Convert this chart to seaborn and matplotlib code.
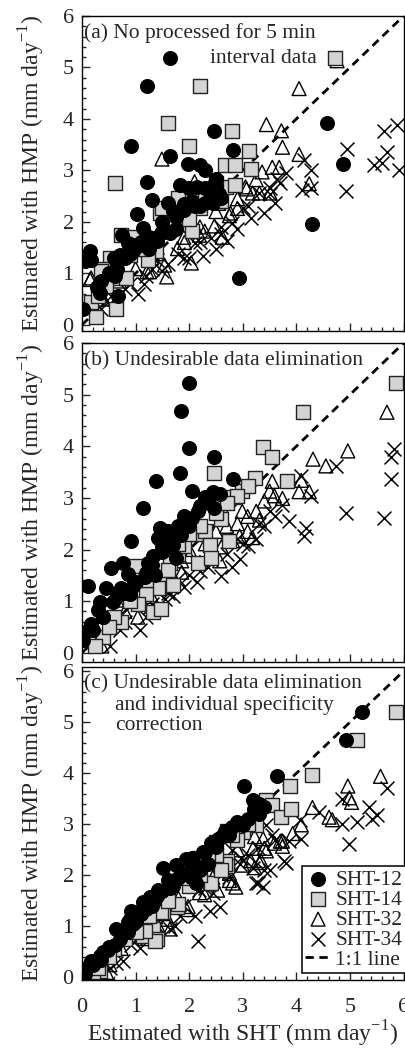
import pandas as pd
import seaborn as sns
import matplotlib.pyplot as plt
from matplotlib.ticker import MultipleLocator

# ---- panel (a): no processing for 5 min interval data ----
a12_x = [1.65, 1.21, 0.91, 2.47, 1.64, 2.81, 4.58, 4.87, 4.30, 2.92, 1.21, 1.31, 1.98, 2.20, 2.29, 1.82, 2.00, 2.15,
         2.30, 2.50, 2.50, 2.45, 2.30, 2.10, 1.90, 1.70, 1.02, 1.14, 1.34, 1.47, 1.65, 0.74, 0.85, 0.95, 1.05, 1.15,
         0.15, 0.05, 0.17, 0.60, 0.65, 0.62, 0.28, 0.34, 0.67, 0.02, 1.60, 1.40, 0.80, 0.90, 1.75, 2.60, 1.25, 0.55,
         1.50, 1.75, 1.90, 2.05, 2.20, 2.40, 2.55, 1.10, 1.25, 0.70, 0.95, 1.55, 0.50, 0.35]
a12_y = [5.19, 4.63, 3.48, 3.77, 3.28, 3.39, 3.92, 3.12, 1.96, 0.91, 2.78, 2.42, 3.12, 3.10, 3.01, 2.72, 2.65, 2.67,
         2.65, 2.84, 2.68, 2.36, 2.36, 2.31, 2.24, 2.21, 2.15, 1.88, 1.68, 1.78, 1.79, 1.74, 1.58, 1.43, 1.53, 1.58,
         1.44, 1.24, 1.26, 1.29, 1.09, 0.94, 0.74, 0.62, 0.55, 0.31, 2.36, 1.63, 1.29, 1.38, 1.87, 2.46, 1.48, 0.99,
         2.00, 2.10, 2.35, 2.40, 2.30, 2.45, 2.55, 1.60, 1.70, 1.35, 1.55, 1.85, 1.00, 0.85]
a14_x = [2.21, 1.60, 0.61, 2.00, 2.79, 3.12, 3.16, 2.66, 2.86, 2.68, 2.86, 4.72, 1.91, 2.38, 1.45, 1.93, 2.06, 0.72,
         0.95, 1.38, 1.23, 0.52, 0.54, 0.63, 0.82, 0.17, 0.26, 0.63, 2.30, 1.50, 1.80, 2.50, 1.10, 0.40, 0.35, 2.20,
         1.70, 1.35, 0.90, 2.60, 2.00, 0.30, 0.45]
a14_y = [4.63, 3.92, 2.76, 3.48, 3.77, 3.37, 3.03, 3.10, 3.10, 2.68, 2.72, 5.19, 2.44, 2.64, 2.17, 1.96, 1.82, 1.74,
         1.70, 1.44, 1.26, 1.29, 0.97, 0.91, 0.91, 0.44, 0.15, 0.30, 2.56, 2.26, 2.46, 2.75, 1.48, 1.09, 1.04, 2.26,
         1.95, 1.65, 1.35, 2.40, 2.05, 0.55, 0.75]
a32_x = [4.76, 4.05, 3.44, 3.72, 3.74, 4.05, 1.49, 3.36, 3.55, 3.68, 4.24, 3.07, 2.10, 1.69, 2.75, 2.47, 2.19, 2.04,
         1.58, 0.15, 1.21, 3.18, 3.25, 2.38, 3.05, 1.73, 2.77, 2.29, 2.62, 1.78, 1.91, 1.54, 1.26, 0.17, 3.31, 3.51,
         2.90, 1.00, 0.70, 0.40, 2.55, 1.40, 2.20, 2.50, 2.90, 1.90, 1.30]
a32_y = [5.13, 4.59, 3.89, 3.77, 3.45, 3.31, 3.22, 2.97, 3.06, 3.06, 2.74, 2.64, 2.78, 2.34, 2.12, 1.92, 1.74, 1.20,
         0.93, 0.88, 1.03, 2.56, 2.82, 2.68, 2.68, 2.30, 2.17, 1.82, 1.70, 1.48, 1.60, 1.16, 1.03, 0.91, 2.56, 2.56,
         2.26, 1.09, 0.85, 0.50, 2.36, 1.38, 1.90, 2.20, 2.45, 1.70, 1.30]
a34_x = [5.88, 5.63, 4.95, 5.69, 5.45, 5.60, 5.91, 4.14, 4.27, 4.11, 4.27, 4.93, 3.64, 3.50, 3.30, 3.60, 3.40, 3.15,
         2.90, 2.70, 2.50, 2.25, 2.00, 1.60, 1.50, 1.15, 1.05, 0.45, 0.35, 3.80, 3.00, 2.80, 2.40, 1.80, 1.30, 0.80,
         3.70, 2.60, 2.10, 1.20, 1.90, 2.20, 2.60, 3.10, 3.50, 1.40, 0.90, 0.60]
a34_y = [3.89, 3.77, 3.41, 3.35, 3.10, 3.14, 3.01, 3.20, 3.01, 2.62, 2.65, 2.59, 2.84, 2.65, 2.56, 2.36, 2.17, 2.07,
         1.87, 1.63, 1.48, 1.34, 1.29, 1.19, 1.04, 0.80, 0.60, 0.46, 0.31, 2.95, 2.26, 1.97, 1.68, 1.38, 1.09, 0.70,
         2.75, 1.77, 1.58, 0.94, 1.30, 1.60, 1.90, 2.30, 2.55, 1.25, 0.80, 0.50]

# ---- panel (b): undesirable data elimination ----
b12_x = [1.99, 1.84, 1.99, 2.47, 1.82, 1.38, 2.81, 2.06, 2.29, 2.44, 2.57, 1.13, 2.47, 2.16, 2.06, 1.45, 1.60, 1.41,
         1.84, 0.91, 1.69, 1.56, 1.32, 1.75, 0.76, 1.23, 0.54, 0.86, 1.17, 1.36, 0.11, 0.45, 0.72, 0.89, 0.58, 0.33,
         0.30, 0.17, 0.06, 0.02, 2.00, 1.50, 1.00, 0.65, 0.40, 1.90, 1.20, 1.30, 1.50, 1.65, 1.80, 1.95, 2.20, 2.35,
         0.80, 0.95, 0.40, 0.20]
b12_y = [5.23, 4.68, 3.97, 3.79, 3.48, 3.32, 3.37, 3.14, 3.02, 3.12, 3.08, 2.80, 2.80, 2.74, 2.61, 2.41, 2.35, 2.23,
         2.28, 2.17, 2.09, 2.03, 1.88, 1.84, 1.74, 1.74, 1.64, 1.52, 1.46, 1.50, 1.30, 1.26, 1.26, 1.13, 0.98, 0.98,
         0.83, 0.55, 0.41, 0.25, 2.45, 1.96, 1.38, 1.09, 0.70, 2.64, 1.55, 1.70, 2.05, 2.15, 2.45, 2.60, 2.85, 2.95,
         1.15, 1.30, 0.70, 0.45]
b14_x = [5.85, 4.13, 3.38, 3.55, 2.47, 3.22, 2.99, 2.81, 3.83, 2.58, 2.12, 2.29, 2.38, 2.75, 2.16, 2.40, 1.64, 1.51,
         1.00, 1.69, 1.41, 1.19, 1.04, 1.32, 1.47, 0.72, 0.39, 0.24, 3.10, 2.90, 2.60, 1.80, 0.60, 1.90, 2.20, 1.20,
         1.60, 1.80, 2.00, 2.50, 2.70, 0.90, 0.50]
b14_y = [5.23, 4.66, 3.99, 3.79, 3.48, 3.39, 3.14, 3.02, 3.32, 2.74, 2.31, 2.35, 2.09, 2.17, 1.74, 1.84, 1.74, 1.42,
         1.68, 1.32, 1.26, 1.13, 0.94, 0.79, 0.84, 0.59, 0.31, 0.13, 3.23, 3.03, 2.60, 1.92, 0.70, 2.06, 2.45, 1.40,
         1.60, 2.10, 2.30, 2.70, 2.90, 1.00, 0.50]
b32_x = [5.69, 4.96, 4.31, 4.55, 4.09, 4.05, 4.24, 3.55, 3.59, 3.74, 2.99, 3.25, 3.09, 3.31, 2.94, 3.09, 3.18, 2.57,
         2.81, 1.86, 1.86, 1.04, 0.65, 0.37, 2.30, 2.00, 1.70, 1.50, 1.30, 2.50, 3.40, 3.50, 0.80, 2.70, 1.60, 2.00,
         2.20, 2.60, 2.90, 1.20]
b32_y = [4.66, 3.91, 3.75, 3.62, 3.34, 3.12, 3.12, 3.32, 3.04, 2.99, 2.74, 2.74, 2.64, 2.57, 2.26, 2.35, 2.23, 1.78,
         2.17, 1.78, 1.56, 0.69, 1.02, 0.13, 2.11, 1.87, 1.48, 1.28, 1.09, 2.35, 2.94, 3.13, 0.80, 2.45, 1.55, 2.00,
         1.75, 2.05, 2.50, 1.15]
b34_x = [5.82, 5.76, 5.76, 4.93, 5.63, 4.74, 4.27, 4.09, 4.18, 4.15, 3.87, 3.74, 3.60, 3.40, 3.25, 3.10, 2.95, 2.80,
         2.60, 2.35, 2.15, 1.90, 1.70, 1.55, 1.27, 1.20, 1.08, 0.52, 3.00, 2.70, 2.20, 1.80, 1.40, 3.50, 0.80, 1.60,
         2.00, 2.40, 2.90, 3.30, 1.30, 0.70]
b34_y = [3.95, 3.79, 3.37, 2.70, 2.61, 3.62, 3.04, 3.43, 2.41, 2.26, 2.55, 2.86, 2.64, 2.45, 2.21, 2.06, 1.82, 1.67,
         1.48, 1.67, 1.38, 1.28, 1.09, 1.04, 0.89, 0.70, 0.44, 0.13, 2.11, 1.91, 1.58, 1.43, 1.19, 2.74, 0.60, 1.15,
         1.50, 1.80, 2.20, 2.50, 0.95, 0.45]

# ---- panel (c): elimination + individual specificity correction ----
c12_x = [5.22, 4.93, 3.64, 3.03, 3.19, 3.31, 3.40, 3.10, 3.00, 2.67, 2.54, 2.41, 1.94, 1.51, 2.13, 2.35, 2.20, 2.03,
         1.85, 1.73, 1.60, 1.42, 1.27, 1.14, 0.91, 1.04, 0.86, 0.86, 0.63, 0.61, 0.48, 0.33, 0.17, 0.07, 0.06, 2.80,
         2.90, 2.50, 2.30, 1.70, 1.30, 1.00, 0.75, 0.25, 0.40, 0.20, 0.35, 0.50, 0.70, 0.95, 1.10, 1.20, 1.35, 1.50,
         1.65, 1.80, 1.95, 2.10, 2.25, 2.45, 2.60, 2.75, 3.20, 3.30, 0.90, 1.40, 1.75, 2.05]
c12_y = [5.20, 4.65, 3.94, 3.75, 3.47, 3.39, 3.33, 3.10, 2.99, 2.86, 2.72, 2.63, 2.32, 2.15, 1.85, 2.23, 2.10, 1.96,
         2.00, 1.90, 1.90, 1.71, 1.58, 1.47, 1.30, 1.28, 1.09, 0.90, 0.95, 0.63, 0.53, 0.42, 0.32, 0.19, 0.06, 2.95,
         3.05, 2.55, 2.45, 1.80, 1.40, 1.10, 0.85, 0.30, 0.50, 0.25, 0.35, 0.60, 0.75, 1.05, 1.25, 1.35, 1.50, 1.70,
         1.75, 1.95, 2.05, 2.20, 2.45, 2.60, 2.75, 2.80, 3.30, 3.20, 1.15, 1.60, 2.20, 2.35]
c14_x = [5.85, 5.13, 4.30, 3.88, 3.44, 3.55, 3.72, 3.90, 3.28, 3.25, 2.70, 2.70, 2.70, 2.38, 2.19, 1.77, 1.51, 1.32,
         1.39, 1.14, 1.04, 0.93, 0.33, 0.20, 2.67, 2.41, 2.60, 1.79, 1.48, 1.36, 1.17, 0.89, 0.30, 3.00, 2.90, 2.50,
         2.00, 0.60, 0.50, 0.80, 1.00, 1.60, 1.90, 2.20, 2.35, 2.50, 2.80, 3.10, 1.25, 2.00]
c14_y = [5.20, 4.65, 3.96, 3.75, 3.47, 3.37, 3.14, 3.30, 3.28, 2.99, 2.86, 2.29, 2.19, 1.85, 2.34, 1.39, 1.28, 0.95,
         0.76, 0.82, 0.95, 1.01, 0.13, 0.10, 2.23, 1.85, 2.10, 1.43, 1.28, 0.72, 0.92, 1.01, 0.19, 2.85, 2.70, 2.40,
         1.80, 0.55, 0.40, 0.75, 0.90, 1.50, 1.95, 2.00, 2.35, 2.65, 2.80, 3.00, 1.20, 2.20]
c32_x = [5.57, 4.96, 5.03, 4.99, 4.30, 4.61, 4.67, 4.09, 3.93, 3.74, 3.74, 3.38, 3.19, 3.44, 3.31, 3.22, 2.75, 2.81,
         2.44, 2.19, 1.95, 1.64, 1.32, 0.46, 3.22, 3.40, 3.59, 3.70, 2.75, 2.87, 2.53, 2.29, 1.98, 1.60, 1.42, 1.17,
         0.73, 0.52, 3.15, 3.34, 0.90, 1.20, 1.50, 1.80, 2.10, 2.40, 2.60, 2.90, 3.00]
c32_y = [3.94, 3.75, 3.43, 3.52, 3.33, 3.14, 3.09, 2.99, 2.82, 2.67, 2.57, 2.72, 2.53, 2.48, 2.25, 2.15, 2.04, 1.85,
         1.96, 1.66, 1.33, 0.95, 0.90, 0.10, 2.76, 2.53, 2.63, 2.67, 1.90, 1.77, 1.71, 1.62, 1.39, 1.14, 1.01, 0.76,
         0.57, 0.25, 2.29, 2.29, 0.80, 1.05, 1.25, 1.55, 1.80, 2.10, 2.35, 2.50, 2.20]
c34_x = [5.69, 5.36, 5.51, 5.42, 5.13, 4.86, 4.99, 4.86, 4.43, 4.06, 4.09, 3.87, 3.81, 3.55, 3.44, 3.28, 3.50, 3.19,
         3.25, 2.94, 2.75, 2.44, 2.19, 2.16, 1.82, 1.64, 1.21, 1.08, 0.76, 0.52, 0.40, 3.28, 3.37, 3.77, 3.40, 2.96,
         2.58, 2.38, 2.10, 1.73, 0.91, 0.63, 1.00, 1.40, 1.90, 2.30, 2.60, 2.80, 3.10, 0.30, 3.60]
c34_y = [3.71, 3.33, 3.18, 3.10, 3.05, 3.01, 2.61, 3.49, 3.24, 3.09, 2.72, 2.67, 2.25, 2.80, 2.99, 2.53, 2.10, 2.15,
         1.85, 2.23, 1.96, 1.66, 1.71, 0.72, 1.20, 0.95, 0.82, 0.57, 0.32, 0.19, 0.05, 1.85, 1.77, 2.29, 2.10, 2.34,
         1.39, 1.30, 1.20, 1.01, 0.63, 0.29, 0.75, 1.00, 1.40, 1.75, 2.00, 2.50, 2.40, 0.15, 2.70]

sensors = ['SHT-12', 'SHT-14', 'SHT-32', 'SHT-34']
panel_titles = {
    'a': ['(a) No processed for 5 min', 'interval data'],
    'b': ['(b) Undesirable data elimination'],
    'c': ['(c) Undesirable data elimination', 'and individual specificity', 'correction'],
}


def main():
    sns.set_style('ticks')
    plt.rcParams['font.family'] = ['Liberation Serif', 'DejaVu Serif']
    plt.rcParams['mathtext.fontset'] = 'custom'
    plt.rcParams['mathtext.rm'] = 'Liberation Serif'

    raw = {
        'a': [(a12_x, a12_y), (a14_x, a14_y), (a32_x, a32_y), (a34_x, a34_y)],
        'b': [(b12_x, b12_y), (b14_x, b14_y), (b32_x, b32_y), (b34_x, b34_y)],
        'c': [(c12_x, c12_y), (c14_x, c14_y), (c32_x, c32_y), (c34_x, c34_y)],
    }
    frames = []
    for panel, pairs in raw.items():
        for sensor, (xs, ys) in zip(sensors, pairs):
            frames.append(pd.DataFrame({'panel': panel, 'sensor': sensor, 'x': xs, 'y': ys}))
    df = pd.concat(frames, ignore_index=True)

    styles = {
        'SHT-12': dict(marker='o', facecolor='black', edgecolor='black', linewidth=0.8),
        'SHT-14': dict(marker='s', facecolor='#d4d4d4', edgecolor='#222222', linewidth=1.0),
        'SHT-32': dict(marker='^', facecolor='none', edgecolor='black', linewidth=1.0),
        'SHT-34': dict(marker='x', color='black', linewidth=1.1),
    }

    fig = plt.figure(figsize=(4.06, 10.52), dpi=100)
    left, width = 0.202, 0.792
    # (bottom, height) in figure fraction and y-range for each panel
    boxes = {'a': (0.6854, 0.2994), 'b': (0.3707, 0.3032), 'c': (0.0684, 0.2975)}
    ylims = {'a': (-0.12, 6), 'b': (-0.18, 6), 'c': (-0.05, 6.08)}
    ylab = 'Estimated with HMP (mm day$^{-1}$)'
    txt = dict(fontsize=15.5, va='baseline')

    for panel in ['a', 'b', 'c']:
        bottom, height = boxes[panel]
        ax = fig.add_axes([left, bottom, width, height])
        ax.axline((0, 0), slope=1, color='black', lw=2, linestyle=(0, (3, 2)), zorder=1)
        sub = df[df['panel'] == panel]
        for sensor in reversed(sensors):
            sns.scatterplot(data=sub[sub['sensor'] == sensor], x='x', y='y', s=100,
                            label=sensor, legend=False, ax=ax, zorder=3, **styles[sensor])
        ax.set_xlim(0, 6)
        ax.set_ylim(*ylims[panel])
        ax.xaxis.set_major_locator(MultipleLocator(1))
        ax.xaxis.set_minor_locator(MultipleLocator(0.2))
        ax.yaxis.set_major_locator(MultipleLocator(1))
        ax.yaxis.set_minor_locator(MultipleLocator(0.2))
        ax.tick_params(which='both', direction='in', top=False, right=False, width=1, labelsize=16)
        ax.tick_params(which='major', length=6)
        ax.tick_params(which='minor', length=3)
        ax.tick_params(axis='x', pad=13)
        ax.tick_params(axis='y', pad=6)
        for sp in ax.spines.values():
            sp.set_linewidth(1.0)
            sp.set_color('black')
        ax.set_ylabel(ylab, fontsize=17, labelpad=11)

        lines = panel_titles[panel]
        if panel == 'a':
            ax.text(0.005, 0.930, lines[0], transform=ax.transAxes, ha='left', **txt)
            ax.text(0.731, 0.851, lines[1], transform=ax.transAxes, ha='right', **txt)
        elif panel == 'b':
            ax.text(0.005, 0.931, lines[0], transform=ax.transAxes, ha='left', **txt)
        else:
            ax.text(0.005, 0.933, lines[0], transform=ax.transAxes, ha='left', **txt)
            ax.text(0.103, 0.863, lines[1], transform=ax.transAxes, ha='left', **txt)
            ax.text(0.103, 0.799, lines[2], transform=ax.transAxes, ha='left', **txt)

        if panel != 'c':
            ax.set_xlabel('')
            ax.tick_params(axis='x', labelbottom=False)
        else:
            ax.set_xlabel('Estimated with SHT (mm day$^{-1}$)', fontsize=17, labelpad=1)
            handles, labels = ax.get_legend_handles_labels()
            order = [labels.index(s) for s in sensors]
            hs = [handles[i] for i in order]
            ls = [labels[i] for i in order]
            line_handle = plt.Line2D([], [], color='black', lw=2, linestyle=(0, (3, 2)))
            leg = ax.legend(hs + [line_handle], ls + ['1:1 line'], loc='lower left',
                            bbox_to_anchor=(0.684, 0.022), fontsize=15.5, frameon=True,
                            fancybox=False, framealpha=1, edgecolor='black',
                            handlelength=1.2, handletextpad=0.2, labelspacing=0.0,
                            borderpad=0.15, borderaxespad=0, scatterpoints=1)
            leg.get_frame().set_linewidth(1.1)

    fig.savefig('out.png', dpi=100)


if __name__ == '__main__':
    main()
